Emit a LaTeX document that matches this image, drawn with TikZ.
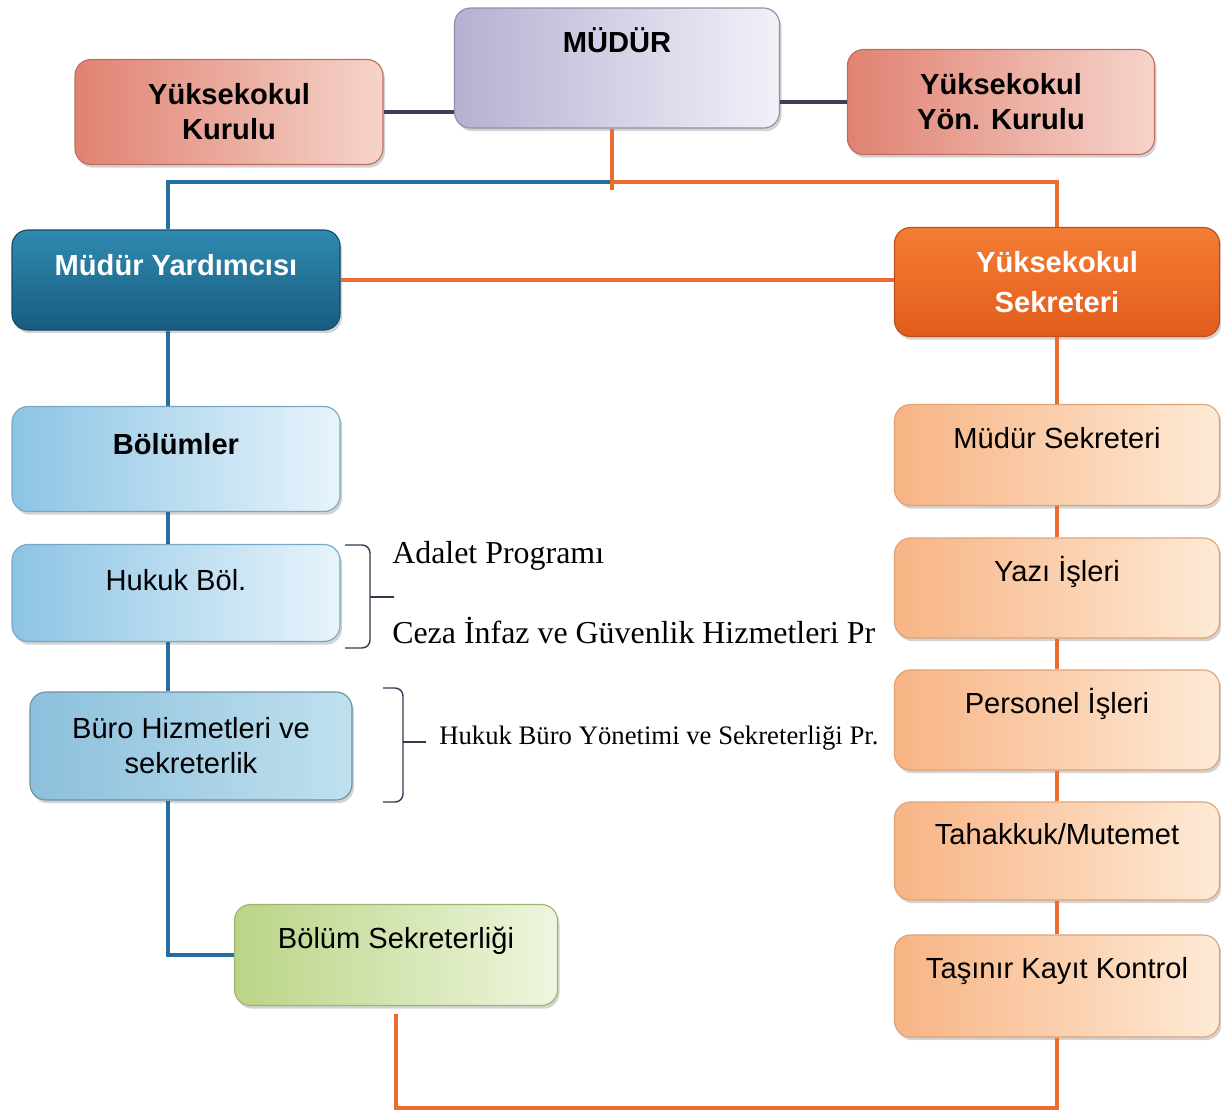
\documentclass[tikz,border=0pt]{standalone}
\usepackage{fontspec}
\setmainfont{Liberation Serif}
\setsansfont{Liberation Sans}
\usepackage{xcolor}
\usetikzlibrary{shadows}

\definecolor{lavdark}{RGB}{182,176,210}
\definecolor{lavlight}{RGB}{242,241,249}
\definecolor{pinkdark}{RGB}{224,130,114}
\definecolor{pinklight}{RGB}{246,212,203}
\definecolor{tealtop}{RGB}{48,138,176}
\definecolor{tealbot}{RGB}{24,92,128}
\definecolor{orangetop}{RGB}{244,125,52}
\definecolor{orangebot}{RGB}{226,92,28}
\definecolor{skydark}{RGB}{140,196,228}
\definecolor{skylight}{RGB}{232,244,251}
\definecolor{burodark}{RGB}{140,192,220}
\definecolor{burolight}{RGB}{192,224,238}
\definecolor{greendark}{RGB}{186,212,134}
\definecolor{greenlight}{RGB}{238,246,222}
\definecolor{peachdark}{RGB}{247,180,132}
\definecolor{peachlight}{RGB}{254,234,214}
\definecolor{lineorange}{RGB}{236,108,48}
\definecolor{lineblue}{RGB}{36,110,160}
\definecolor{linegrey}{RGB}{62,62,84}
\definecolor{bracketgrey}{RGB}{50,58,80}

\newcommand{\boxfont}{\sffamily\fontsize{20.7}{25}\selectfont}

\begin{document}
\begin{tikzpicture}[x=0.25mm, y=-0.25mm,
    box/.style={rounded corners=4mm, align=center, font=\boxfont, line width=0.8pt,
        drop shadow={opacity=0.35, shadow xshift=0.5mm, shadow yshift=-0.8mm}},
    boldbox/.style={box, font=\boxfont\bfseries},
    boxsize/.style 2 args={minimum width=#1*0.25mm, minimum height=#2*0.25mm},
    textup/.style={text height=5mm, text depth=#1},
    lavfill/.style={draw=lavdark!80!black, left color=lavdark, right color=lavlight},
    pinkfill/.style={draw=pinkdark!85!black, left color=pinkdark, right color=pinklight},
    tealfill/.style={draw=tealbot!80!black, top color=tealtop, bottom color=tealbot, text=white},
    orangefill/.style={draw=orangebot!85!black, top color=orangetop, bottom color=orangebot, text=white},
    skyfill/.style={draw=skydark!85!black, left color=skydark, right color=skylight},
    burofill/.style={draw=burodark!75!black, left color=burodark, right color=burolight},
    greenfill/.style={draw=greendark!85!black, left color=greendark, right color=greenlight},
    peachfill/.style={draw=peachdark!90!black, left color=peachdark, right color=peachlight},
    orangeline/.style={draw=lineorange, line width=3pt},
    blueline/.style={draw=lineblue, line width=3pt},
    greyline/.style={draw=linegrey, line width=3pt},
    bracket/.style={draw=bracketgrey, line width=1pt, rounded corners=2mm},
    progtext/.style={anchor=west, inner sep=0pt, font=\fontsize{22.7}{27}\selectfont}]

\useasboundingbox (0,0) rectangle (1221,1119);

% Top row
\node[boldbox, lavfill, textup=12.8mm, boxsize={325}{120}] (mudur) at (617,68) {MÜDÜR};
\node[boldbox, pinkfill, boxsize={308}{105}] (ykurul) at (229,112) {Yüksekokul\\Kurulu};
\node[boldbox, pinkfill, boxsize={307}{105}] (yonkurul) at (1001,102) {Yüksekokul\\Yön. Kurulu};

% Left column
\node[boldbox, tealfill, textup=7.3mm, boxsize={328}{100}] (myard) at (176,280) {Müdür Yardımcısı};
\node[boldbox, skyfill, textup=7.3mm, boxsize={328}{105}] (bolumler) at (176,459) {Bölümler};
\node[box, skyfill, textup=6.4mm, boxsize={328}{97}] (hukuk) at (176,593) {Hukuk Böl.};
\node[box, burofill, boxsize={322}{108}] (buro) at (191,746) {Büro Hizmetleri ve\\sekreterlik};
\node[box, greenfill, textup=8.3mm, boxsize={323}{101}] (bolsek) at (396,955) {Bölüm Sekreterliği};

% Right column
\node[boldbox, orangefill, font=\sffamily\bfseries\fontsize{20.7}{28.5}\selectfont, boxsize={325}{109}] (ysek) at (1057,282) {Yüksekokul\\Sekreteri};
\node[box, peachfill, textup=8.3mm, boxsize={325}{101}] (musek) at (1057,455) {Müdür Sekreteri};
\node[box, peachfill, textup=8.3mm, boxsize={325}{100}] (yazi) at (1057,588) {Yazı İşleri};
\node[box, peachfill, textup=8.3mm, boxsize={325}{100}] (personel) at (1057,720) {Personel İşleri};
\node[box, peachfill, textup=8.3mm, boxsize={325}{98}] (tahakkuk) at (1057,851) {Tahakkuk/Mutemet};
\node[box, peachfill, textup=8.8mm, boxsize={325}{102}] (tasinir) at (1057,986) {Taşınır Kayıt Kontrol};

% Programmes
\node[progtext] (adalet) at (392,556) {Adalet Programı};
\node[progtext] (ceza) at (392,630) {Ceza İnfaz ve Güvenlik Hizmetleri Pr};
\node[progtext, font=\fontsize{19}{23}\selectfont] (hburo) at (439,738) {Hukuk Büro Yönetimi ve Sekreterliği Pr.};

% Help coordinates
\coordinate (topline) at (0,182);
\coordinate (botline) at (0,1108);
\coordinate (split) at ([xshift=-1.2mm]mudur.south |- topline);
\coordinate (leftline) at ([xshift=-2mm]myard.north);

% Connectors at the top
\draw[greyline] (ykurul.east) -- (ykurul.east -| mudur.west);
\draw[greyline] (yonkurul.west -| mudur.east) -- (yonkurul.west);
\draw[blueline] (split) -| (leftline);
\draw[orangeline] (split) -| (ysek.north);
\draw[orangeline] (split |- mudur.south) -- ([yshift=-2mm]split);
\draw[orangeline] (myard.east) -- (myard.east -| ysek.west);

% Left column connectors
\draw[blueline] (leftline |- myard.south) -- (leftline |- bolumler.north);
\draw[blueline] (leftline |- bolumler.south) -- (leftline |- hukuk.north);
\draw[blueline] (leftline |- hukuk.south) -- (leftline |- buro.north);
\draw[blueline] (leftline |- buro.south) -- (leftline |- bolsek.west) -- (bolsek.west);

% Right column connectors
\draw[orangeline] (ysek.south) -- (musek.north);
\draw[orangeline] (musek.south) -- (yazi.north);
\draw[orangeline] (yazi.south) -- (personel.north);
\draw[orangeline] (personel.south) -- (tahakkuk.north);
\draw[orangeline] (tahakkuk.south) -- (tasinir.north);
\draw[orangeline] (tasinir.south) -- (tasinir.south |- botline) -- (bolsek.south |- botline) -- ([yshift=-2mm]bolsek.south);

% Brackets
\draw[bracket] (345,545) -| (370,648) -- (345,648);
\draw[bracket] (370,597) -- (394,597);
\draw[bracket] (383,688) -| (403,802) -- (383,802);
\draw[bracket] (403,742) -- (426,742);

\end{tikzpicture}
\end{document}
